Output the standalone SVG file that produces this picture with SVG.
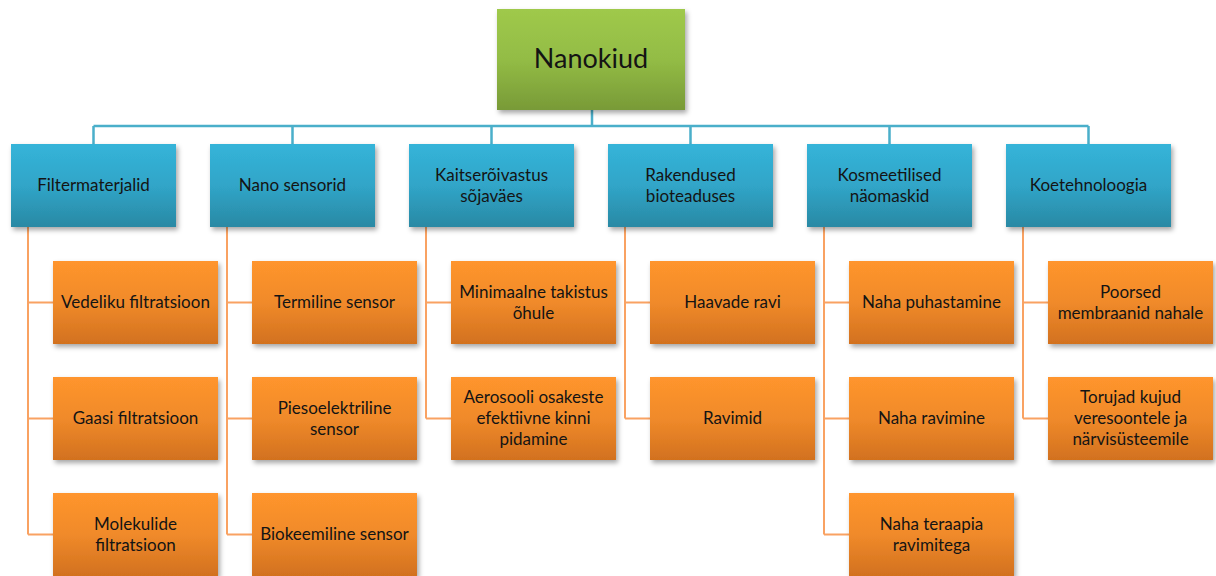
<svg xmlns="http://www.w3.org/2000/svg" width="1216" height="576" viewBox="0 0 1216 576">
<defs>
<linearGradient id="gG" x1="0" y1="0" x2="0" y2="1"><stop offset="0" stop-color="#9fc94b"/><stop offset="0.5" stop-color="#93bc45"/><stop offset="1" stop-color="#789a37"/></linearGradient>
<linearGradient id="gB" x1="0" y1="0" x2="0" y2="1"><stop offset="0" stop-color="#35b4d9"/><stop offset="0.5" stop-color="#30a5c8"/><stop offset="1" stop-color="#2a89a4"/></linearGradient>
<linearGradient id="gO" x1="0" y1="0" x2="0" y2="1"><stop offset="0" stop-color="#ff952d"/><stop offset="0.5" stop-color="#f08a2a"/><stop offset="1" stop-color="#d2711f"/></linearGradient>
<filter id="sh" x="-10%" y="-10%" width="125%" height="130%"><feDropShadow dx="2" dy="3" stdDeviation="2.5" flood-color="#000" flood-opacity="0.35"/></filter>
</defs>
<style>
.root{fill:url(#gG);filter:url(#sh)}
.cat{fill:url(#gB);filter:url(#sh)}
.leaf{fill:url(#gO);filter:url(#sh)}
text{font-family:Lato,"Liberation Sans",sans-serif;fill:#141414;text-anchor:middle}
.t{font-size:17px}
.rt{font-size:27px}
.bl{fill:none;stroke:#4aafca;stroke-width:2.5}
.ol{fill:none;stroke:#f9a262;stroke-width:2}
</style>
<g id="connectors">
<path class="bl" d="M592 110V126M93.5 126H1088.5M93.5 126V144M292.5 126V144M491.5 126V144M690.5 126V144M889.5 126V144M1088.5 126V144"/>
<path class="ol" d="M28 227V534.5M28 302.5H53M28 418.5H53M28 534.5H53"/>
<path class="ol" d="M227 227V534.5M227 302.5H252M227 418.5H252M227 534.5H252"/>
<path class="ol" d="M426 227V418.5M426 302.5H451M426 418.5H451"/>
<path class="ol" d="M625 227V418.5M625 302.5H650M625 418.5H650"/>
<path class="ol" d="M824 227V534.5M824 302.5H849M824 418.5H849M824 534.5H849"/>
<path class="ol" d="M1023 227V418.5M1023 302.5H1048M1023 418.5H1048"/>
</g>
<g id="root"><rect class="root" x="497" y="9" width="188" height="101"/><text class="rt" x="591" y="68">Nanokiud</text></g>

<g id="c1"><rect class="cat" x="11" y="144" width="165" height="83"/><text class="t" x="93.5" y="191">Filtermaterjalid</text></g>
<g id="c2"><rect class="cat" x="210" y="144" width="165" height="83"/><text class="t" x="292.5" y="191">Nano sensorid</text></g>
<g id="c3"><rect class="cat" x="409" y="144" width="165" height="83"/><text class="t" x="491.5" y="181">Kaitserõivastus</text><text class="t" x="491.5" y="202">sõjaväes</text></g>
<g id="c4"><rect class="cat" x="608" y="144" width="165" height="83"/><text class="t" x="690.5" y="181">Rakendused</text><text class="t" x="690.5" y="202">bioteaduses</text></g>
<g id="c5"><rect class="cat" x="807" y="144" width="165" height="83"/><text class="t" x="889.5" y="181">Kosmeetilised</text><text class="t" x="889.5" y="202">näomaskid</text></g>
<g id="c6"><rect class="cat" x="1006" y="144" width="165" height="83"/><text class="t" x="1088.5" y="191">Koetehnoloogia</text></g>

<g id="l11"><rect class="leaf" x="53" y="261" width="165" height="83"/><text class="t" x="135.5" y="308">Vedeliku filtratsioon</text></g>
<g id="l12"><rect class="leaf" x="53" y="377" width="165" height="83"/><text class="t" x="135.5" y="424">Gaasi filtratsioon</text></g>
<g id="l13"><rect class="leaf" x="53" y="493" width="165" height="83"/><text class="t" x="135.5" y="530">Molekulide</text><text class="t" x="135.5" y="551">filtratsioon</text></g>

<g id="l21"><rect class="leaf" x="252" y="261" width="165" height="83"/><text class="t" x="334.5" y="308">Termiline sensor</text></g>
<g id="l22"><rect class="leaf" x="252" y="377" width="165" height="83"/><text class="t" x="334.5" y="414">Piesoelektriline</text><text class="t" x="334.5" y="435">sensor</text></g>
<g id="l23"><rect class="leaf" x="252" y="493" width="165" height="83"/><text class="t" x="334.5" y="540">Biokeemiline sensor</text></g>

<g id="l31"><rect class="leaf" x="451" y="261" width="165" height="83"/><text class="t" x="533.5" y="298">Minimaalne takistus</text><text class="t" x="533.5" y="319">õhule</text></g>
<g id="l32"><rect class="leaf" x="451" y="377" width="165" height="83"/><text class="t" x="533.5" y="403">Aerosooli osakeste</text><text class="t" x="533.5" y="424">efektiivne kinni</text><text class="t" x="533.5" y="445">pidamine</text></g>

<g id="l41"><rect class="leaf" x="650" y="261" width="165" height="83"/><text class="t" x="732.5" y="308">Haavade ravi</text></g>
<g id="l42"><rect class="leaf" x="650" y="377" width="165" height="83"/><text class="t" x="732.5" y="424">Ravimid</text></g>

<g id="l51"><rect class="leaf" x="849" y="261" width="165" height="83"/><text class="t" x="931.5" y="308">Naha puhastamine</text></g>
<g id="l52"><rect class="leaf" x="849" y="377" width="165" height="83"/><text class="t" x="931.5" y="424">Naha ravimine</text></g>
<g id="l53"><rect class="leaf" x="849" y="493" width="165" height="83"/><text class="t" x="931.5" y="530">Naha teraapia</text><text class="t" x="931.5" y="551">ravimitega</text></g>

<g id="l61"><rect class="leaf" x="1048" y="261" width="165" height="83"/><text class="t" x="1130.5" y="298">Poorsed</text><text class="t" x="1130.5" y="319">membraanid nahale</text></g>
<g id="l62"><rect class="leaf" x="1048" y="377" width="165" height="83"/><text class="t" x="1130.5" y="403">Torujad kujud</text><text class="t" x="1130.5" y="424">veresoontele ja</text><text class="t" x="1130.5" y="445">närvisüsteemile</text></g>
</svg>
